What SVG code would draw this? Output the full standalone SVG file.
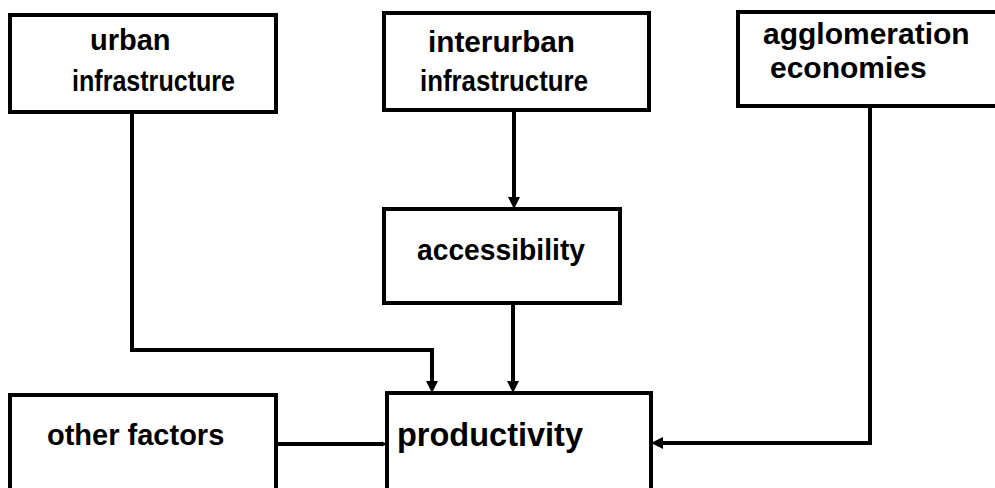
<svg xmlns="http://www.w3.org/2000/svg" width="995" height="488" viewBox="0 0 995 488">
<style>
.box{fill:#fff;stroke:#000;stroke-width:4}
.t{font-family:"Liberation Sans",Arial,sans-serif;font-weight:bold;font-size:29px;fill:#000}
.big{font-size:32.5px}
.ag{font-size:30px}
.c{fill:none;stroke:#000;stroke-width:4}
</style>
<defs>
<marker id="ah" viewBox="0 0 10 10" refX="0" refY="5" markerWidth="12" markerHeight="12" markerUnits="userSpaceOnUse" orient="auto">
<path d="M0,0 L10,5 L0,10 Z" fill="#000"/>
</marker>
<marker id="ahs" viewBox="0 0 10 10" refX="0" refY="5" markerWidth="5" markerHeight="6" markerUnits="userSpaceOnUse" orient="auto">
<path d="M0,0 L10,5 L0,10 Z" fill="#000"/>
</marker>
</defs>
<rect width="995" height="488" fill="#fff"/>
<g id="connectors">
<path class="c" d="M132,112 V350 H432 V381" marker-end="url(#ah)"/>
<path class="c" d="M514,110 V197" marker-end="url(#ah)"/>
<path class="c" d="M513,303 V381" marker-end="url(#ah)"/>
<path class="c" d="M870,106 V443 H663" marker-end="url(#ah)"/>
<path class="c" d="M276,444 H382" marker-end="url(#ahs)"/>
</g>
<g id="urban">
<rect class="box" x="10" y="15" width="266" height="97"/>
<text class="t" x="90" y="50">urban</text>
<text class="t" x="72" y="91" textLength="163" lengthAdjust="spacingAndGlyphs">infrastructure</text>
</g>
<g id="interurban">
<rect class="box" x="384" y="13" width="265" height="97"/>
<text class="t" x="428" y="52" textLength="147" lengthAdjust="spacingAndGlyphs">interurban</text>
<text class="t" x="420" y="91" textLength="168" lengthAdjust="spacingAndGlyphs">infrastructure</text>
</g>
<g id="agglomeration">
<rect class="box" x="738" y="12" width="270" height="94"/>
<text class="t ag" x="763" y="44">agglomeration</text>
<text class="t ag" x="770" y="78">economies</text>
</g>
<g id="accessibility">
<rect class="box" x="384" y="209" width="236" height="94"/>
<text class="t" x="417" y="260" textLength="168" lengthAdjust="spacingAndGlyphs">accessibility</text>
</g>
<g id="other">
<rect class="box" x="10" y="395" width="266" height="110"/>
<text class="t" x="47" y="445">other factors</text>
</g>
<g id="productivity">
<rect class="box" x="387" y="393" width="264" height="110"/>
<text class="t big" x="397" y="446">productivity</text>
</g>
</svg>
